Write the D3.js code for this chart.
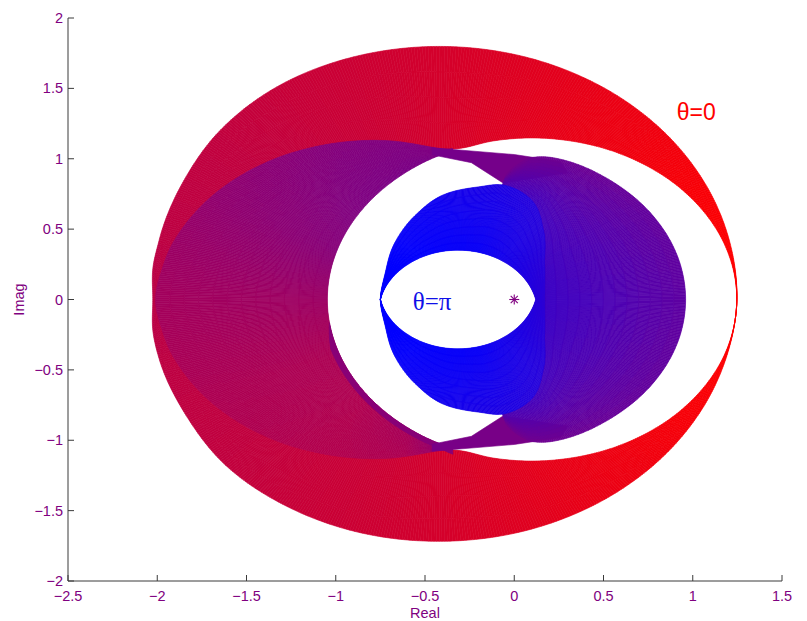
<!DOCTYPE html>
<html><head><meta charset="utf-8">
<script src="https://cdn.jsdelivr.net/npm/d3@7"></script>
<style>body{margin:0;background:#fff}svg{display:block}</style>
</head><body>
<svg id="chart" width="807" height="621"></svg>
<script>
// ---------- axes data ----------
const xDomain = [-2.5, 1.5];
const yDomain = [-2, 2];
const xTicks = [-2.5, -2, -1.5, -1, -0.5, 0, 0.5, 1, 1.5];
const yTicks = [-2, -1.5, -1, -0.5, 0, 0.5, 1, 1.5, 2];
const xLabel = "Real", yLabel = "Imag";

// ---------- sweep data (polar radii) ----------
// theta≈0 family (outer ring), polar about ringCenter
const ringCenter = [-0.42, 0];
const ringOuterAngles = [0,15,30,45,60,75,90,105,120,135,150,165,172,180,188,195,210,225,240,255,270,285,300,315,330,345];
const ringOuterR = [1.667,1.679,1.704,1.736,1.767,1.790,1.798,1.790,1.766,1.72,1.66,1.625,1.62,1.605,1.62,1.625,1.64,1.68,1.70,1.715,1.718,1.713,1.699,1.682,1.667,1.66];
const ringInnerAngles = [0,15,30,45,60,75,83,90,105,120,135,150,165,172,180,188,195,210,225,240,255,270,277,285,300,315,330,345];
const ringInnerR = [1.667,1.641,1.567,1.454,1.315,1.166,1.085,1.073,1.169,1.271,1.375,1.470,1.546,1.568,1.59,1.568,1.546,1.470,1.375,1.271,1.169,1.073,1.085,1.166,1.315,1.454,1.567,1.641];
const ringThetaAngles = [0,15,30,45,60,75,90,105,120,135,150,165,180,195,210,225,240,255,270,285,300,315,330,345];
const ringTheta = [0,0.01,0.03,0.06,0.09,0.13,0.17,0.2,0.22,0.24,0.25,0.26,0.27,0.26,0.25,0.24,0.22,0.2,0.17,0.13,0.09,0.06,0.03,0.01];

// left lobes (same centre), inner edge
const lobeAngles = [84,90,105,120,135,150,165,180,195,210,225,240,255,270,276];
const lobeInnerR = [1.078,1.0224,0.8966,0.7949,0.7188,0.6668,0.6368,0.627,0.6368,0.6668,0.7188,0.7949,0.8966,1.0224,1.078];
const lobeThetaAngles = [86,100,120,150,180,210,240,260,274];
const lobeThetaOuter = [0.5,0.5,0.48,0.43,0.36,0.32,0.3,0.32,0.45];
const lobeThetaInner = [0.52,0.52,0.51,0.47,0.39,0.33,0.31,0.35,0.48];
// thin purple strip along the lower inner edge of the lobes
const stripAngles = [195, 274];
const stripWidth = 0.035, stripTheta = 0.47;

// necks joining the lobes to the crescent
const topNeck = [[-0.46,1.078],[0.0,1.03],[0.26,0.98],[0.3,0.9],[-0.063,0.828],[-0.24,0.972],[-0.46,1.028]];
const bottomNeck = [[-0.46,-1.078],[0.0,-1.03],[0.26,-0.98],[0.3,-0.9],[-0.063,-0.828],[-0.24,-0.972],[-0.46,-1.028]];
const topNeckTheta = 0.54, bottomNeckTheta = 0.53;

// crescent and blue families, polar about innerCenter
const innerCenter = [-0.3, 0];
const crescentAngles = [0,15,30,45,60,68,72,76,284,288,292,300,315,330,345];
const crescentOuterR = [1.26,1.252,1.2285,1.192,1.146,1.09,1.0,0.87,0.87,1.0,1.09,1.146,1.192,1.2285,1.252];
const blueOuterAngles = [0,28,47,60,73,83,98,113,131,155,180,205,229,247,262,277,287,300,313,332];
const blueOuterR = [0.47,0.532,0.679,0.806,0.848,0.806,0.747,0.65,0.553,0.465,0.45,0.465,0.553,0.65,0.747,0.806,0.848,0.806,0.679,0.532];
const lensAngles = d3.range(0, 360, 10);
const lensR = [0.4198,0.4043,0.3904,0.3782,0.3680,0.3598,0.3539,0.3502,0.3488,0.3498,0.3529,0.3584,0.3661,0.3759,0.3877,0.4014,0.4165,0.4328,0.4498,0.4328,0.4165,0.4014,0.3877,0.3759,0.3661,0.3584,0.3529,0.3498,0.3488,0.3502,0.3539,0.3598,0.3680,0.3782,0.3904,0.4043];
const crescentThetaAngles = [0,30,60,74,286,300,330];
const crescentThetaInner = [0.77,0.76,0.74,0.7,0.7,0.74,0.76];
const crescentThetaOuter = [0.63,0.61,0.57,0.55,0.55,0.57,0.61];
const blueThetaAngles = [0,30,60,75,100,130,155,180,205,230,260,285,300,330];
const blueThetaOuter = [0.83,0.84,0.86,0.89,0.94,0.98,1,1,1,0.98,0.94,0.89,0.86,0.84];
const blueThetaInner = [0.85,0.89,0.94,0.97,0.98,0.99,1,1,1,0.99,0.98,0.97,0.94,0.89];

const starPoint = [0, 0];
const labels = [
  {text: "θ=0", x: 1.02, y: 1.33, color: "#ff0000", font: "Liberation Sans, Arial, sans-serif", size: 23},
  {text: "θ=π", x: -0.46, y: -0.02, color: "#1010e8", font: "Liberation Serif, Times New Roman, serif", size: 25}
];

// ---------- setup ----------
const svg = d3.select("#chart");
const M = {left: 68, right: 782, top: 18, bottom: 581};
const x = d3.scaleLinear().domain(xDomain).range([M.left, M.right]);
const y = d3.scaleLinear().domain(yDomain).range([M.bottom, M.top]);
// θ/π -> colour, red to blue
const thetaColor = s => d3.rgb(Math.round(255 * (1 - s)), 0, Math.round(255 * s)).toString();

function periodic(angles, vals, linear) {
  const n = angles.length;
  return function (a) {
    a = ((a % 360) + 360) % 360;
    let i = n - 1;
    for (let k = 0; k < n; k++) if (angles[k] <= a) i = k;
    const j = (i + 1) % n;
    const ai = angles[i];
    let aj = angles[j]; if (aj <= ai) aj += 360;
    let aa = a; if (aa < ai) aa += 360;
    const t = (aa - ai) / (aj - ai);
    if (linear) return vals[i] + (vals[j] - vals[i]) * t;
    const h = (i - 1 + n) % n, k2 = (j + 1) % n;
    let ah = angles[h]; if (ah >= ai) ah -= 360;
    let ak = angles[k2]; while (ak <= aj) ak += 360;
    const m0 = (vals[j] - vals[h]) / (aj - ah) * (aj - ai);
    const m1 = (vals[k2] - vals[i]) / (ak - ai) * (aj - ai);
    const t2 = t * t, t3 = t2 * t;
    return (2*t3 - 3*t2 + 1) * vals[i] + (t3 - 2*t2 + t) * m0 + (-2*t3 + 3*t2) * vals[j] + (t3 - t2) * m1;
  };
}

const sweepLayer = svg.append("g");
function sweep(center, a0, a1, rIn, rOut, sIn, sOut, da, nv) {
  const quads = [];
  const P = (a, r) => {
    const rad = a * Math.PI / 180;
    return [x(center[0] + r * Math.cos(rad)), y(center[1] + r * Math.sin(rad))];
  };
  for (let a = a0; a < a1 - 1e-9; a += da) {
    const b = Math.min(a + da, a1);
    const ri0 = rIn(a), ro0 = rOut(a), ri1 = rIn(b), ro1 = rOut(b);
    const am = (a + b) / 2;
    const si = sIn(am), so = sOut(am);
    for (let j = 0; j < nv; j++) {
      const v0 = j / nv, v1 = (j + 1) / nv;
      const pts = [P(a, ri0 + (ro0 - ri0) * v0), P(b, ri1 + (ro1 - ri1) * v0),
                   P(b, ri1 + (ro1 - ri1) * v1), P(a, ri0 + (ro0 - ri0) * v1)];
      quads.push({pts, s: si + (so - si) * (v0 + v1) / 2});
    }
  }
  sweepLayer.append("g").selectAll("path").data(quads).join("path")
    .attr("d", d => "M" + d.pts.map(p => p[0].toFixed(2) + "," + p[1].toFixed(2)).join("L") + "Z")
    .attr("fill", d => thetaColor(d.s))
    .attr("stroke", d => thetaColor(d.s))
    .attr("stroke-width", 0.6);
}

// ring (θ≈0 side)
const ringOut = periodic(ringOuterAngles, ringOuterR);
const ringIn = periodic(ringInnerAngles, ringInnerR);
const ringS = periodic(ringThetaAngles, ringTheta);
sweep(ringCenter, 0, 360, ringIn, ringOut, ringS, ringS, 0.5, 4);

// left lobes
const lobeIn = periodic(lobeAngles, lobeInnerR);
sweep(ringCenter, 86, 274, lobeIn, ringIn,
  periodic(lobeThetaAngles, lobeThetaInner, true), periodic(lobeThetaAngles, lobeThetaOuter, true), 0.5, 12);
sweep(ringCenter, stripAngles[0], stripAngles[1], lobeIn, a => lobeIn(a) + stripWidth * Math.min(1, (a - stripAngles[0]) / 15),
  () => stripTheta, () => stripTheta, 0.5, 1);

// necks
const lineGen = d3.line().x(d => x(d[0])).y(d => y(d[1]));
[[topNeck, topNeckTheta], [bottomNeck, bottomNeckTheta]].forEach(([pts, s]) => {
  sweepLayer.append("path").attr("d", lineGen(pts) + "Z")
    .attr("fill", thetaColor(s)).attr("stroke", thetaColor(s)).attr("stroke-width", 0.6);
});

// crescent
const blueOut = periodic(blueOuterAngles, blueOuterR);
sweep(innerCenter, -74, 74, blueOut, periodic(crescentAngles, crescentOuterR),
  periodic(crescentThetaAngles, crescentThetaInner, true), periodic(crescentThetaAngles, crescentThetaOuter, true), 0.5, 12);

// blue (θ≈π side)
const lensIn = periodic(lensAngles, lensR, true);
sweep(innerCenter, 0, 360, lensIn, blueOut,
  periodic(blueThetaAngles, blueThetaInner, true), periodic(blueThetaAngles, blueThetaOuter, true), 0.5, 8);

// ---------- axes ----------
const axisColor = "#3a3a3a", tickColor = "#800080";
const ax = svg.append("g");
ax.append("line").attr("x1", M.left).attr("x2", M.left).attr("y1", M.top).attr("y2", M.bottom)
  .attr("stroke", axisColor).attr("stroke-width", 1);
ax.append("line").attr("x1", M.left).attr("x2", M.right).attr("y1", M.bottom).attr("y2", M.bottom)
  .attr("stroke", axisColor).attr("stroke-width", 1);
const fmt = v => (v < 0 ? "\u2212" : "") + Math.abs(v);
ax.selectAll(".xt").data(xTicks).join("line").attr("class", "xt")
  .attr("x1", d => x(d)).attr("x2", d => x(d)).attr("y1", M.bottom).attr("y2", M.bottom - 6)
  .attr("stroke", axisColor);
ax.selectAll(".yt").data(yTicks).join("line").attr("class", "yt")
  .attr("y1", d => y(d)).attr("y2", d => y(d)).attr("x1", M.left).attr("x2", M.left + 6)
  .attr("stroke", axisColor);
ax.selectAll(".xl").data(xTicks).join("text").attr("class", "xl")
  .attr("x", d => x(d)).attr("y", M.bottom + 20).attr("text-anchor", "middle")
  .attr("font-family", "Liberation Sans, Arial, sans-serif").attr("font-size", 14.5)
  .attr("fill", tickColor).text(fmt);
ax.selectAll(".yl").data(yTicks).join("text").attr("class", "yl")
  .attr("x", M.left - 5).attr("y", d => y(d) + 5).attr("text-anchor", "end")
  .attr("font-family", "Liberation Sans, Arial, sans-serif").attr("font-size", 14.5)
  .attr("fill", tickColor).text(fmt);
ax.append("text").attr("x", (M.left + M.right) / 2).attr("y", 618).attr("text-anchor", "middle")
  .attr("font-family", "Liberation Sans, Arial, sans-serif").attr("font-size", 14.5)
  .attr("fill", tickColor).text(xLabel);
ax.append("text").attr("transform", `translate(24,${(M.top + M.bottom) / 2}) rotate(-90)`)
  .attr("text-anchor", "middle")
  .attr("font-family", "Liberation Sans, Arial, sans-serif").attr("font-size", 14.5)
  .attr("fill", tickColor).text(yLabel);

// ---------- annotations ----------
svg.selectAll(".lab").data(labels).join("text").attr("class", "lab")
  .attr("x", d => x(d.x)).attr("y", d => y(d.y) + 8).attr("text-anchor", "middle")
  .attr("font-family", d => d.font).attr("font-size", d => d.size).attr("fill", d => d.color).text(d => d.text);
const sx = x(starPoint[0]), sy = y(starPoint[1]);
const star = svg.append("g").attr("stroke", "#800080").attr("stroke-width", 1.1);
[0, 45, 90, 135].forEach(a => {
  const r = 5, rad = a * Math.PI / 180;
  star.append("line").attr("x1", sx - r * Math.cos(rad)).attr("y1", sy - r * Math.sin(rad))
    .attr("x2", sx + r * Math.cos(rad)).attr("y2", sy + r * Math.sin(rad));
});
</script>
</body></html>
